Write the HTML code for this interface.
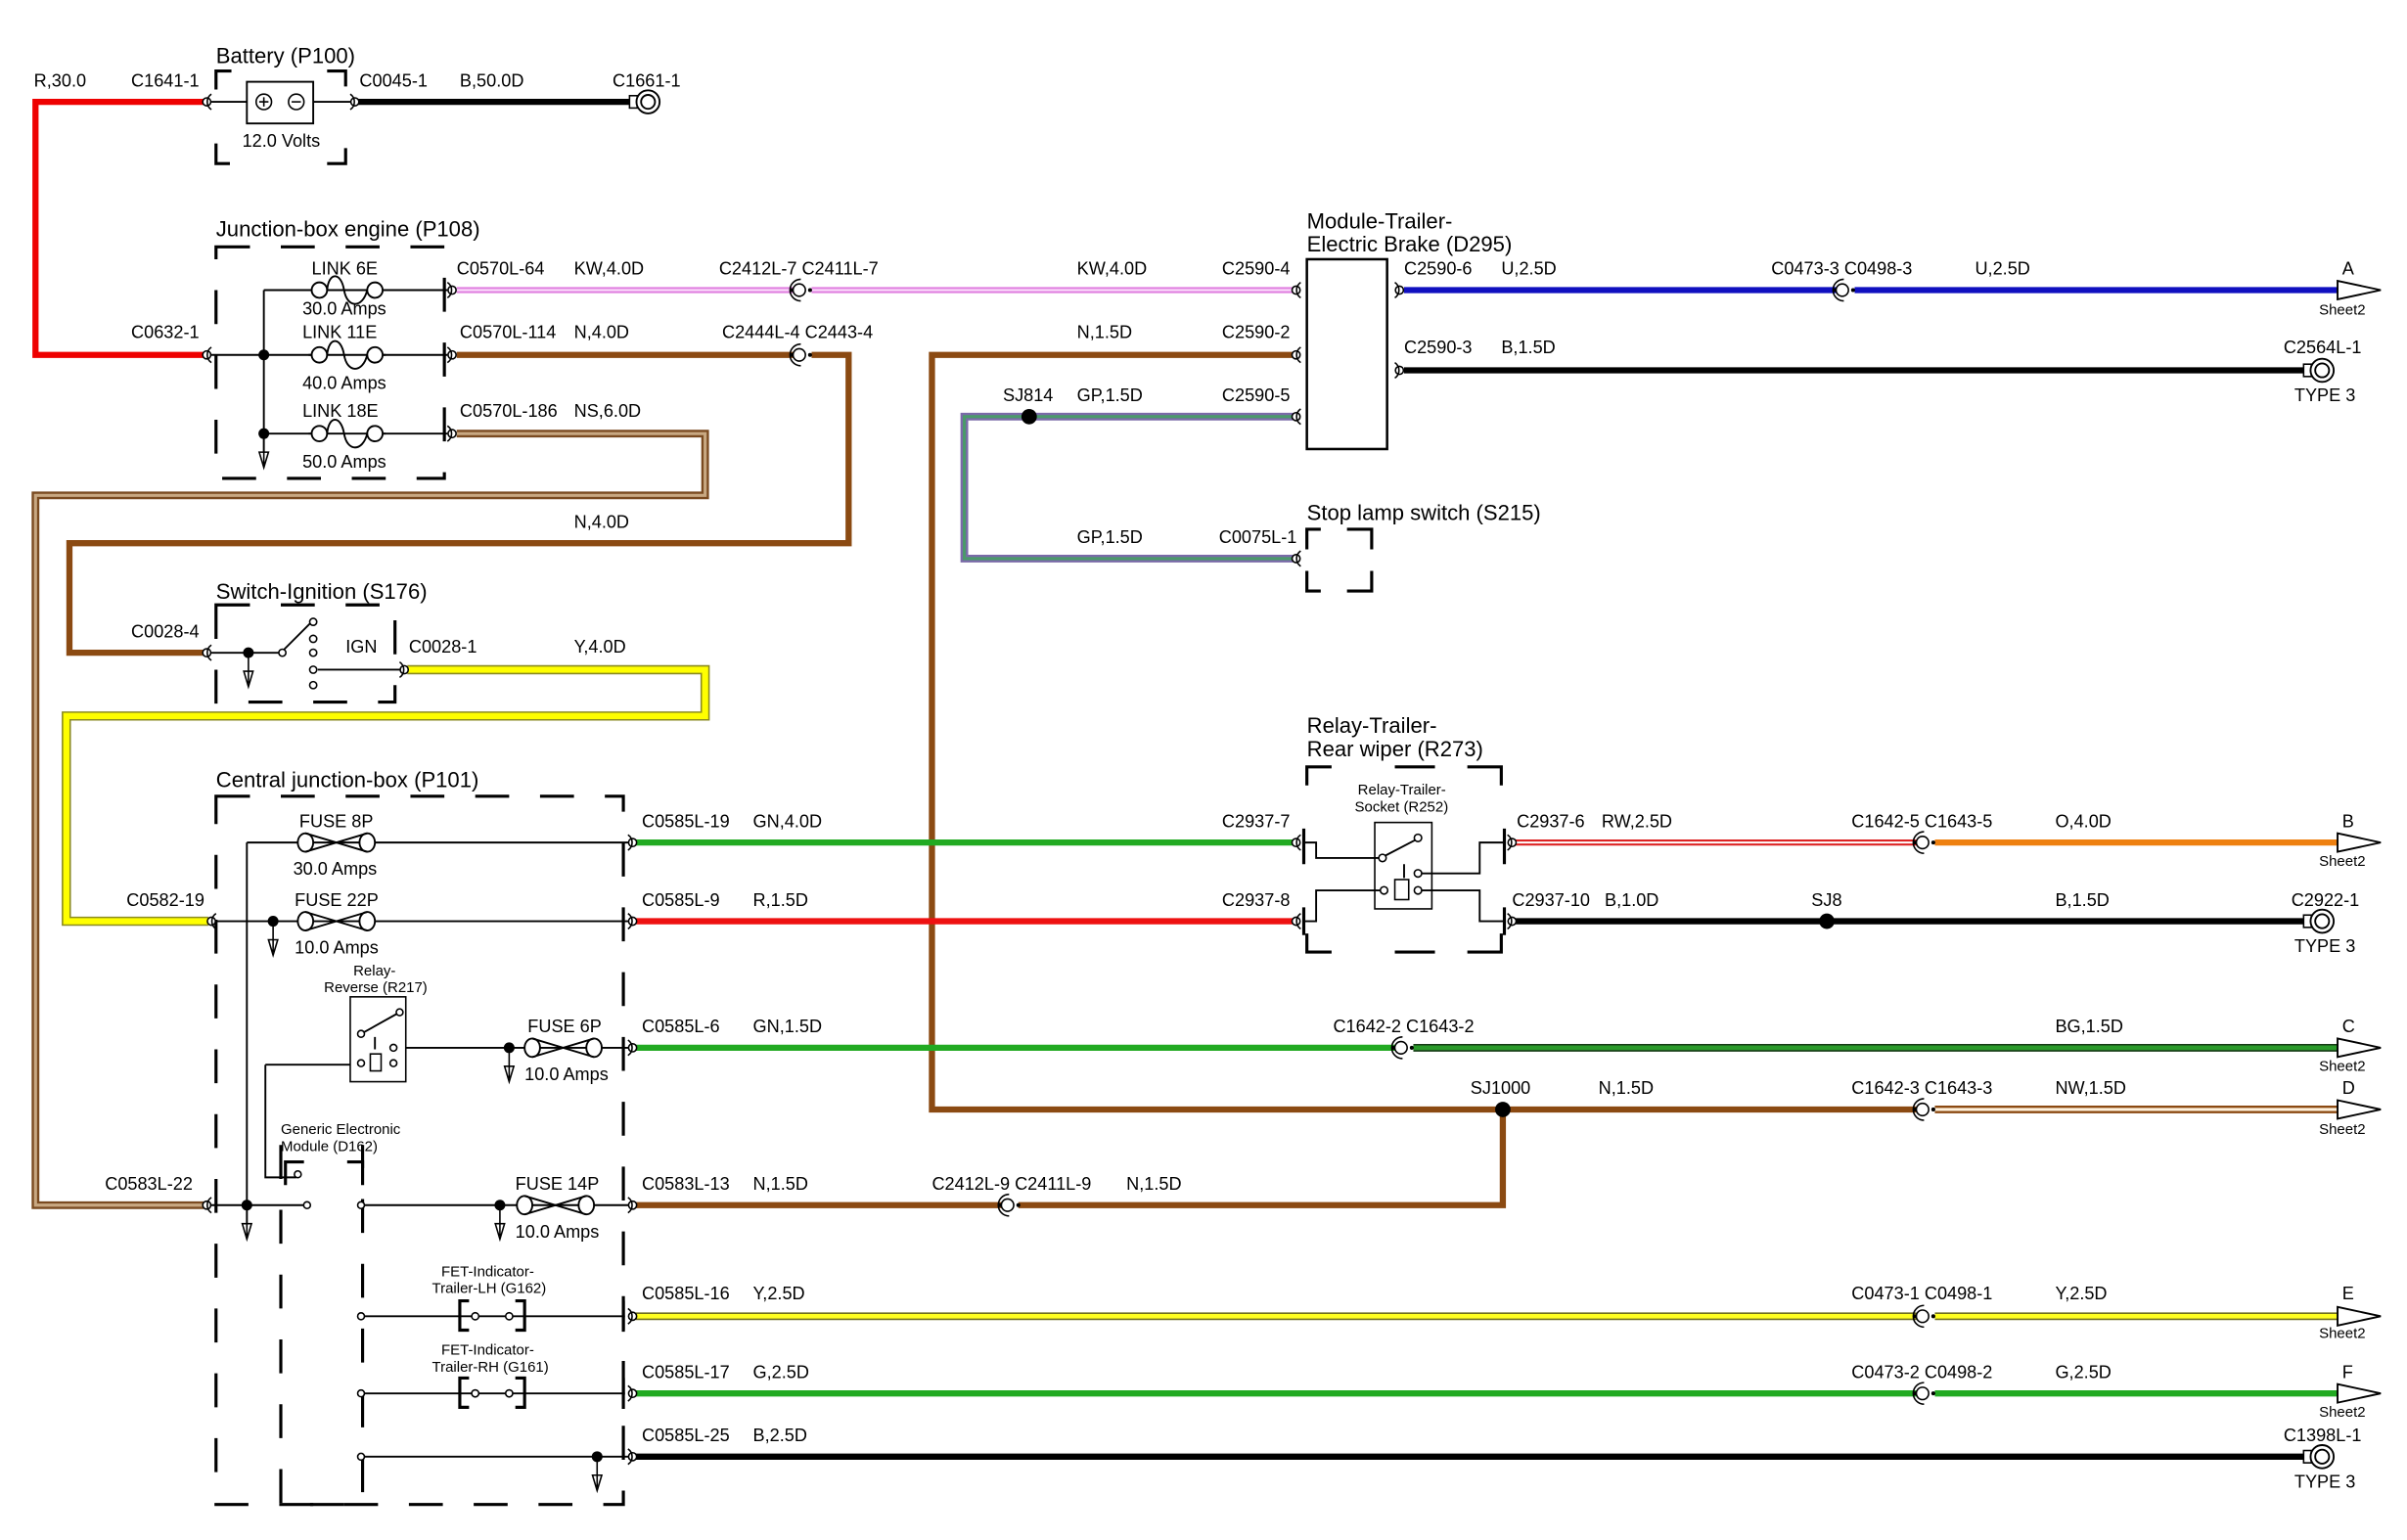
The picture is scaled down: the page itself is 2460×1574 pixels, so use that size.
<!DOCTYPE html>
<html><head><meta charset="utf-8"><style>
html,body{margin:0;padding:0;background:#fff;width:2460px;height:1574px;overflow:hidden}
svg{display:block}
text{font-family:"Liberation Sans",sans-serif;font-size:11.5px;fill:#000}
.t{font-size:14px}
.s{font-size:9.5px}
.br{fill:none;stroke:#000;stroke-width:2;stroke-dasharray:22 20}
.ln{fill:none;stroke:#000;stroke-width:1.2}
</style></head><body>
<svg width="2460" height="1574" viewBox="0 0 1560 998" preserveAspectRatio="none" xmlns="http://www.w3.org/2000/svg">
<defs>
<g id="cL"><circle cx="0" cy="0" r="2.6" fill="#fff" stroke="#000" stroke-width="1"/><path d="M3,-5 A6,6 0 0 0 3,5" fill="none" stroke="#000" stroke-width="1"/></g>
<g id="cR"><circle cx="0" cy="0" r="2.6" fill="#fff" stroke="#000" stroke-width="1"/><path d="M-3,-5 A6,6 0 0 1 -3,5" fill="none" stroke="#000" stroke-width="1"/></g>
<g id="inl"><circle cx="-2" cy="0" r="4" fill="#fff" stroke="#000" stroke-width="1"/><path d="M-1,-7 A7,7 0 0 0 -1,7" fill="none" stroke="#000" stroke-width="1"/><circle cx="-7" cy="0" r="1.3"/><circle cx="5" cy="0" r="1.3"/></g>
<g id="ring"><rect x="-12" y="-4" width="5" height="8" fill="#fff" stroke="#000"/><circle cx="0" cy="0" r="7.5" fill="#fff" stroke="#000" stroke-width="1.2"/><circle cx="0" cy="0" r="4.5" fill="none" stroke="#000" stroke-width="1.2"/></g>
<g id="arr"><path d="M0,-6 L28,0 L0,6 Z" fill="#fff" stroke="#000" stroke-width="1.2"/></g>
<g id="link"><path d="M-22,0 h-3 M22,0 h3" stroke="#000" stroke-width="1.2"/><circle cx="-18" cy="0" r="5" fill="#fff" stroke="#000" stroke-width="1.2"/><circle cx="18" cy="0" r="5" fill="#fff" stroke="#000" stroke-width="1.2"/><path d="M-13,0 C-12,-12 -4,-12 -2,0 C0,12 10,12 13,0" fill="none" stroke="#000" stroke-width="1.2"/></g>
<g id="fuse"><ellipse cx="-20" cy="0" rx="5" ry="6" fill="#fff" stroke="#000" stroke-width="1.2"/><ellipse cx="20" cy="0" rx="5" ry="6" fill="#fff" stroke="#000" stroke-width="1.2"/><path d="M-20,-6 L20,6 M-20,6 L20,-6" stroke="#000" stroke-width="1.2"/></g>
<g id="gnd"><path d="M0,0 v18 M-3,10 L0,20 L3,10 Z" fill="#fff" stroke="#000" stroke-width="1"/></g>
</defs>

<!-- ===== WIRES ===== -->
<path d="M134,66 H23 V230 H134" fill="none" stroke="#e00" stroke-width="4"/>
<path d="M232,66 H410" stroke="#000" stroke-width="4"/>
<path d="M296,188 H514 M526,188 H838" stroke="#e080e0" stroke-width="4"/>
<path d="M296,188 H514 M526,188 H838" stroke="#fbe0fb" stroke-width="1.3"/>
<path d="M296,230 H514 M526,230 H550 V352 H45 V423 H132" fill="none" stroke="#8b4a12" stroke-width="4"/>
<path d="M296,281 H457 V321 H23 V781 H132" fill="none" stroke="#7a4a20" stroke-width="5"/>
<path d="M296,281 H457 V321 H23 V781 H132" fill="none" stroke="#c8a882" stroke-width="2"/>
<path d="M264,434 H457 V464 H43 V597 H135" fill="none" stroke="#8a8a20" stroke-width="6"/>
<path d="M264,434 H457 V464 H43 V597 H135" fill="none" stroke="#ffff00" stroke-width="4"/>
<path d="M838,270 H625 V362 H838" fill="none" stroke="#7a6aa8" stroke-width="5"/>
<path d="M838,270 H625 V362 H838" fill="none" stroke="#4a9a6a" stroke-width="2"/>
<path d="M838,230 H604 V719 H1242" fill="none" stroke="#8b4a12" stroke-width="4"/>
<path d="M974,719 V781 H660 M650,781 H412" fill="none" stroke="#8b4a12" stroke-width="4"/>
<path d="M1254,719 H1515" stroke="#8b4a12" stroke-width="5"/>
<path d="M1254,719 H1515" stroke="#fff2dd" stroke-width="2"/>
<path d="M910,188 H1190 M1202,188 H1515" stroke="#1010c0" stroke-width="4"/>
<path d="M910,240 H1493" stroke="#000" stroke-width="4"/>
<path d="M412,546 H838" stroke="#22aa22" stroke-width="4"/>
<path d="M412,597 H838" stroke="#ee1111" stroke-width="4"/>
<path d="M982,546 H1242" stroke="#dd2222" stroke-width="4"/>
<path d="M982,546 H1242" stroke="#fff" stroke-width="1.3"/>
<path d="M1254,546 H1515" stroke="#ee8010" stroke-width="4"/>
<path d="M982,597 H1493" stroke="#000" stroke-width="4"/>
<path d="M412,679 H904" stroke="#22aa22" stroke-width="4"/>
<path d="M916,679 H1515" stroke="#153a15" stroke-width="5"/>
<path d="M916,679 H1515" stroke="#2a9a2a" stroke-width="3"/>
<path d="M412,853 H1242 M1254,853 H1515" stroke="#707020" stroke-width="5"/>
<path d="M412,853 H1242 M1254,853 H1515" stroke="#ffff20" stroke-width="3"/>
<path d="M412,903 H1242 M1254,903 H1515" stroke="#22aa22" stroke-width="4"/>
<path d="M412,944 H1493" stroke="#000" stroke-width="4"/>

<!-- ===== Battery ===== -->
<text x="140" y="41" class="t">Battery (P100)</text>
<path d="M140,58 V46 H152 M212,46 H224 V58 M140,93 V106 H152 M212,106 H224 V93" class="br" stroke-dasharray="none"/>
<path d="M137,66 H230" class="ln"/>
<rect x="160" y="53" width="43" height="27" fill="#fff" stroke="#000" stroke-width="1.2"/>
<circle cx="171" cy="66" r="5" fill="#fff" stroke="#000"/><path d="M168,66 h6 M171,63 v6" stroke="#000"/>
<circle cx="192" cy="66" r="5" fill="#fff" stroke="#000"/><path d="M189,66 h6" stroke="#000"/>
<text x="157" y="95">12.0 Volts</text>
<use href="#cL" x="134" y="66"/><use href="#cR" x="230" y="66"/><use href="#ring" x="420" y="66"/>
<text x="22" y="56">R,30.0</text><text x="85" y="56">C1641-1</text>
<text x="233" y="56">C0045-1</text><text x="298" y="56">B,50.0D</text><text x="397" y="56">C1661-1</text>

<!-- ===== Junction box engine ===== -->
<text x="140" y="153" class="t">Junction-box engine (P108)</text>
<path d="M140,160 H288 V310 H140 Z" class="br"/>
<path d="M171,188 V300 M137,230 H171 M171,188 H290 M171,230 H290 M171,281 H290" class="ln"/>
<circle cx="171" cy="230" r="3.5"/><circle cx="171" cy="281" r="3.5"/>
<use href="#gnd" x="171" y="283"/>
<use href="#link" x="225" y="188"/><use href="#link" x="225" y="230"/><use href="#link" x="225" y="281"/>
<text x="202" y="178">LINK 6E</text><text x="196" y="204">30.0 Amps</text>
<text x="196" y="219">LINK  11E</text><text x="196" y="252">40.0 Amps</text>
<text x="196" y="270">LINK  18E</text><text x="196" y="303">50.0 Amps</text>
<use href="#cL" x="134" y="230"/><use href="#cR" x="293" y="188"/><use href="#cR" x="293" y="230"/><use href="#cR" x="293" y="281"/>
<text x="85" y="219">C0632-1</text>
<text x="296" y="178">C0570L-64</text><text x="372" y="178">KW,4.0D</text>
<text x="298" y="219">C0570L-114</text><text x="372" y="219">N,4.0D</text>
<text x="298" y="270">C0570L-186</text><text x="372" y="270">NS,6.0D</text>
<use href="#inl" x="520" y="188"/><use href="#inl" x="520" y="230"/>
<text x="466" y="178">C2412L-7 C2411L-7</text><text x="468" y="219">C2444L-4 C2443-4</text>
<text x="372" y="342">N,4.0D</text>
<text x="698" y="178">KW,4.0D</text><text x="698" y="219">N,1.5D</text>

<!-- ===== Switch ignition ===== -->
<text x="140" y="388" class="t">Switch-Ignition (S176)</text>
<path d="M140,392 H256 V455 H140 Z" class="br" stroke-dasharray="14 18"/>
<path d="M137,423 H182 M182,423 L203,402 M206,434 H262" class="ln" stroke-width="1.4"/>
<circle cx="161" cy="423" r="3.5"/><use href="#gnd" x="161" y="425"/>
<circle cx="183" cy="423" r="2.3" fill="#fff" stroke="#000"/>
<circle cx="203" cy="403" r="2.3" fill="#fff" stroke="#000"/><circle cx="203" cy="414" r="2.3" fill="#fff" stroke="#000"/><circle cx="203" cy="423" r="2.3" fill="#fff" stroke="#000"/><circle cx="203" cy="434" r="2.3" fill="#fff" stroke="#000"/><circle cx="203" cy="444" r="2.3" fill="#fff" stroke="#000"/>
<text x="224" y="423">IGN</text>
<use href="#cL" x="134" y="423"/><use href="#cR" x="262" y="434"/>
<text x="85" y="413">C0028-4</text><text x="265" y="423">C0028-1</text><text x="372" y="423">Y,4.0D</text>

<!-- ===== Central junction box ===== -->
<text x="140" y="510" class="t">Central junction-box (P101)</text>
<path d="M140,516 H404 V975 H140 Z" class="br" stroke-dasharray="24 28"/>
<path d="M182,742 V975 H235 V742" class="br" stroke-dasharray="24 28"/>
<path d="M160,546 V800 M160,546 H410 M140,597 H410 M172,690 V763 H192 M230,690 H172 M262,679 H410 M137,781 H200 M234,781 H410 M234,853 H405 M234,903 H405 M234,944 H410" class="ln" stroke-width="1.2"/>
<circle cx="177" cy="597" r="3.5"/><use href="#gnd" x="177" y="599"/>
<circle cx="160" cy="781" r="3.5"/><use href="#gnd" x="160" y="783"/>
<use href="#fuse" x="218" y="546"/><use href="#fuse" x="218" y="597"/><use href="#fuse" x="365" y="679"/><use href="#fuse" x="360" y="781"/>
<text x="194" y="536">FUSE 8P</text><text x="190" y="567">30.0 Amps</text>
<text x="191" y="587">FUSE 22P</text><text x="191" y="618">10.0 Amps</text>
<text x="342" y="669">FUSE 6P</text><text x="340" y="700">10.0 Amps</text>
<text x="334" y="771">FUSE 14P</text><text x="334" y="802">10.0 Amps</text>
<circle cx="330" cy="679" r="3.5"/><use href="#gnd" x="330" y="681"/>
<circle cx="324" cy="781" r="3.5"/><use href="#gnd" x="324" y="783"/>
<circle cx="387" cy="944" r="3.5"/><use href="#gnd" x="387" y="946"/>
<text x="229" y="632" class="s">Relay-</text><text x="210" y="643" class="s">Reverse (R217)</text>
<rect x="227" y="646" width="36" height="55" fill="#fff" stroke="#000" stroke-width="1"/>
<path d="M234,670 L259,656 M243,672 v8" class="ln"/>
<circle cx="234" cy="670" r="2.2" fill="#fff" stroke="#000"/><circle cx="259" cy="656" r="2.2" fill="#fff" stroke="#000"/>
<rect x="240" y="683" width="7" height="11" fill="#fff" stroke="#000"/>
<circle cx="234" cy="689" r="2.2" fill="#fff" stroke="#000"/><circle cx="255" cy="689" r="2.2" fill="#fff" stroke="#000"/><circle cx="255" cy="679" r="2.2" fill="#fff" stroke="#000"/>
<text x="182" y="735" class="s">Generic Electronic</text><text x="182" y="746" class="s">Module (D162)</text>
<path d="M185,768 V753 H197 M225,753 H235 V768" fill="none" stroke="#000" stroke-width="2"/>
<circle cx="193" cy="761" r="2.2" fill="#fff" stroke="#000"/>
<circle cx="199" cy="781" r="2.2" fill="#fff" stroke="#000"/><circle cx="234" cy="781" r="2.2" fill="#fff" stroke="#000"/>
<circle cx="234" cy="853" r="2.2" fill="#fff" stroke="#000"/><circle cx="234" cy="903" r="2.2" fill="#fff" stroke="#000"/><circle cx="234" cy="944" r="2.2" fill="#fff" stroke="#000"/>
<text x="286" y="827" class="s">FET-Indicator-</text><text x="280" y="838" class="s">Trailer-LH (G162)</text>
<text x="286" y="878" class="s">FET-Indicator-</text><text x="280" y="889" class="s">Trailer-RH (G161)</text>
<path d="M304,843 h-6 v19 h6 M334,843 h6 v19 h-6 M304,893 h-6 v19 h6 M334,893 h6 v19 h-6" fill="none" stroke="#000" stroke-width="2"/>
<circle cx="308" cy="853" r="2.3" fill="#fff" stroke="#000"/><circle cx="330" cy="853" r="2.3" fill="#fff" stroke="#000"/>
<circle cx="308" cy="903" r="2.3" fill="#fff" stroke="#000"/><circle cx="330" cy="903" r="2.3" fill="#fff" stroke="#000"/>
<path d="M404,843 v20 M404,893 v20" stroke="#000" stroke-width="2"/>
<use href="#cL" x="137" y="597"/><use href="#cL" x="134" y="781"/>
<use href="#cR" x="410" y="546"/><use href="#cR" x="410" y="597"/><use href="#cR" x="410" y="679"/><use href="#cR" x="410" y="781"/><use href="#cR" x="410" y="853"/><use href="#cR" x="410" y="903"/><use href="#cR" x="410" y="944"/>
<text x="82" y="587">C0582-19</text><text x="68" y="771">C0583L-22</text>
<text x="416" y="536">C0585L-19</text><text x="488" y="536">GN,4.0D</text>
<text x="416" y="587">C0585L-9</text><text x="488" y="587">R,1.5D</text>
<text x="416" y="669">C0585L-6</text><text x="488" y="669">GN,1.5D</text>
<text x="416" y="771">C0583L-13</text><text x="488" y="771">N,1.5D</text>
<text x="416" y="842">C0585L-16</text><text x="488" y="842">Y,2.5D</text>
<text x="416" y="893">C0585L-17</text><text x="488" y="893">G,2.5D</text>
<text x="416" y="934">C0585L-25</text><text x="488" y="934">B,2.5D</text>
<use href="#inl" x="655" y="781"/><text x="604" y="771">C2412L-9 C2411L-9</text><text x="730" y="771">N,1.5D</text>

<!-- ===== Module trailer brake ===== -->
<text x="847" y="148" class="t">Module-Trailer-</text><text x="847" y="163" class="t">Electric Brake (D295)</text>
<rect x="847" y="168" width="52" height="123" fill="#fff" stroke="#000" stroke-width="1.6"/>
<use href="#cL" x="840" y="188"/><use href="#cL" x="840" y="230"/><use href="#cL" x="840" y="270"/>
<use href="#cR" x="907" y="188"/><use href="#cR" x="907" y="240"/>
<text x="792" y="178">C2590-4</text><text x="792" y="219">C2590-2</text><text x="792" y="260">C2590-5</text>
<circle cx="667" cy="270" r="5"/><text x="650" y="260">SJ814</text><text x="698" y="260">GP,1.5D</text>
<text x="910" y="178">C2590-6</text><text x="973" y="178">U,2.5D</text>
<text x="910" y="229">C2590-3</text><text x="973" y="229">B,1.5D</text>
<use href="#inl" x="1196" y="188"/><text x="1148" y="178">C0473-3 C0498-3</text><text x="1280" y="178">U,2.5D</text>
<use href="#arr" x="1515" y="188"/><text x="1518" y="178">A</text><text x="1503" y="204" class="s">Sheet2</text>
<use href="#ring" x="1505" y="240"/><text x="1480" y="229">C2564L-1</text><text x="1487" y="260">TYPE 3</text>

<text x="847" y="337" class="t">Stop lamp switch (S215)</text>
<path d="M847,356 V343 H856 M873,343 H889 V356 M847,370 V383 H856 M873,383 H889 V370" fill="none" stroke="#000" stroke-width="2"/>
<use href="#cL" x="840" y="362"/>
<text x="698" y="352">GP,1.5D</text><text x="790" y="352">C0075L-1</text>

<!-- relay trailer -->
<text x="847" y="475" class="t">Relay-Trailer-</text><text x="847" y="490" class="t">Rear wiper (R273)</text>
<path d="M847,509 V497 H863 M904,497 H930 M951,497 H973 V509 M847,605 V617 H863 M904,617 H930 M951,617 H973 V605" fill="none" stroke="#000" stroke-width="2"/>
<path d="M845,537 V560 M845,588 V606 M975,537 V560 M975,588 V606" stroke="#000" stroke-width="2"/>
<text x="880" y="515" class="s">Relay-Trailer-</text><text x="878" y="526" class="s">Socket (R252)</text>
<rect x="891" y="533" width="37" height="56" fill="#fff" stroke="#000" stroke-width="1"/>
<path d="M845,546 H853 V556 H895 M895,556 L918,544 M845,597 H853 V577 H895 M910,569 v-9 M919,566 H959 V546 H975 M919,577 H959 V597 H975" class="ln" stroke-width="1.1"/>
<circle cx="896" cy="556" r="2.4" fill="#fff" stroke="#000"/><circle cx="919" cy="543" r="2.4" fill="#fff" stroke="#000"/>
<circle cx="919" cy="566" r="2.4" fill="#fff" stroke="#000"/><circle cx="919" cy="577" r="2.4" fill="#fff" stroke="#000"/><circle cx="897" cy="577" r="2.4" fill="#fff" stroke="#000"/>
<rect x="904" y="570" width="9" height="13" fill="#fff" stroke="#000"/>
<use href="#cL" x="840" y="546"/><use href="#cL" x="840" y="597"/><use href="#cR" x="980" y="546"/><use href="#cR" x="980" y="597"/>
<text x="792" y="536">C2937-7</text><text x="792" y="587">C2937-8</text>
<text x="983" y="536">C2937-6</text><text x="1038" y="536">RW,2.5D</text>
<text x="980" y="587">C2937-10</text><text x="1040" y="587">B,1.0D</text>
<use href="#inl" x="1248" y="546"/><text x="1200" y="536">C1642-5 C1643-5</text><text x="1332" y="536">O,4.0D</text>
<use href="#arr" x="1515" y="546"/><text x="1518" y="536">B</text><text x="1503" y="561" class="s">Sheet2</text>
<circle cx="1184" cy="597" r="5"/><text x="1174" y="587">SJ8</text><text x="1332" y="587">B,1.5D</text>
<use href="#ring" x="1505" y="597"/><text x="1485" y="587">C2922-1</text><text x="1487" y="617">TYPE 3</text>

<use href="#inl" x="910" y="679"/><text x="864" y="669">C1642-2 C1643-2</text><text x="1332" y="669">BG,1.5D</text>
<use href="#arr" x="1515" y="679"/><text x="1518" y="669">C</text><text x="1503" y="694" class="s">Sheet2</text>
<circle cx="974" cy="719" r="5"/><text x="953" y="709">SJ1000</text><text x="1036" y="709">N,1.5D</text>
<use href="#inl" x="1248" y="719"/><text x="1200" y="709">C1642-3 C1643-3</text><text x="1332" y="709">NW,1.5D</text>
<use href="#arr" x="1515" y="719"/><text x="1518" y="709">D</text><text x="1503" y="735" class="s">Sheet2</text>

<use href="#inl" x="1248" y="853"/><text x="1200" y="842">C0473-1 C0498-1</text><text x="1332" y="842">Y,2.5D</text>
<use href="#arr" x="1515" y="853"/><text x="1518" y="842">E</text><text x="1503" y="867" class="s">Sheet2</text>
<use href="#inl" x="1248" y="903"/><text x="1200" y="893">C0473-2 C0498-2</text><text x="1332" y="893">G,2.5D</text>
<use href="#arr" x="1515" y="903"/><text x="1518" y="893">F</text><text x="1503" y="918" class="s">Sheet2</text>
<use href="#ring" x="1505" y="944"/><text x="1480" y="934">C1398L-1</text><text x="1487" y="964">TYPE 3</text>
</svg>
</body></html>
